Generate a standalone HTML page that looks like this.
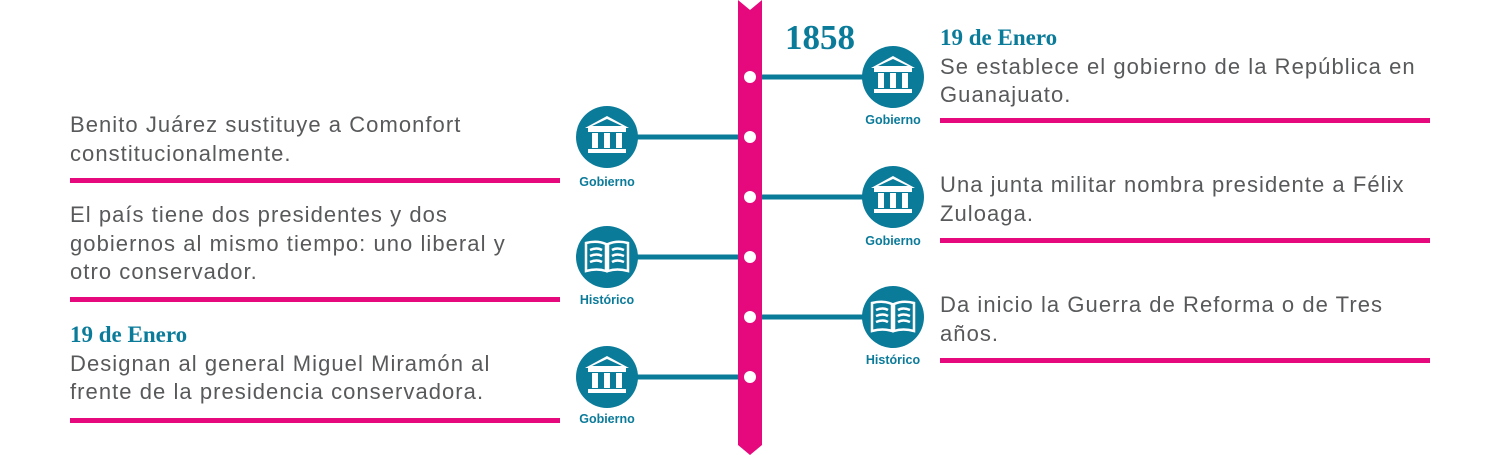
<!DOCTYPE html>
<html><head><meta charset="utf-8"><style>
body{margin:0;width:1500px;height:455px;background:#fff;position:relative;overflow:hidden;font-family:"Liberation Sans",sans-serif}
.t{position:absolute;font-size:22px;line-height:28.5px;color:#58595b;white-space:nowrap;letter-spacing:1.05px}
.h{font-family:"Liberation Serif",serif;font-weight:bold;color:#0b7b9a;font-size:23px;display:block;letter-spacing:0}
.u{position:absolute;height:5px;background:#e6097d;width:490px}
.lab{position:absolute;font-size:12.5px;font-weight:bold;color:#0b7b9a;width:80px;text-align:center}
</style></head><body>
<svg width="1500" height="455" style="position:absolute;left:0;top:0">
<defs>
<g id="gov" fill="#fff">
<polygon points="-22,-9 0,-21 22,-9"/>
<polygon points="-15,-11 0,-18 15,-11" fill="#0b7b9a"/>
<rect x="-19" y="-9" width="38" height="4"/>
<rect x="-15" y="-4" width="6" height="15"/><rect x="-3" y="-4" width="6" height="15"/><rect x="9" y="-4" width="6" height="15"/>
<rect x="-19" y="12" width="38" height="4"/>
</g>
<g id="book" fill="none" stroke="#fff" stroke-width="2.5">
<path d="M-1,-13 Q-10,-17 -21,-14 L-21,14 Q-10,11 -1,14 Z"/>
<path d="M1,-13 Q10,-17 21,-14 L21,14 Q10,11 1,14 Z"/>
<path d="M-17,-7 Q-10,-10 -5,-7 M-17,-1 Q-10,-4 -5,-1 M-17,5 Q-10,2 -5,5 M5,-7 Q10,-10 17,-7 M5,-1 Q10,-4 17,-1 M5,5 Q10,2 17,5"/>
</g>
</defs>
<g stroke="#0b7b9a" stroke-width="5">
<line x1="607" y1="137" x2="750" y2="137"/><line x1="607" y1="257" x2="750" y2="257"/><line x1="607" y1="377" x2="750" y2="377"/>
<line x1="750" y1="77" x2="893" y2="77"/><line x1="750" y1="197" x2="893" y2="197"/><line x1="750" y1="317" x2="893" y2="317"/>
</g>
<polygon points="738,0 750,10 762,0 762,445 750,455 738,445" fill="#e6097d"/>
<g fill="#fff"><circle cx="750" cy="77" r="6"/><circle cx="750" cy="137" r="6"/><circle cx="750" cy="197" r="6"/><circle cx="750" cy="257" r="6"/><circle cx="750" cy="317" r="6"/><circle cx="750" cy="377" r="6"/></g>
<g fill="#0b7b9a"><circle cx="607" cy="137" r="31"/><circle cx="607" cy="257" r="31"/><circle cx="607" cy="377" r="31"/><circle cx="893" cy="77" r="31"/><circle cx="893" cy="197" r="31"/><circle cx="893" cy="317" r="31"/></g>
<use href="#gov" x="607" y="137"/><use href="#book" x="607" y="257"/><use href="#gov" x="607" y="377"/>
<use href="#gov" x="893" y="77"/><use href="#gov" x="893" y="197"/><use href="#book" x="893" y="317"/>
</svg>
<div style="position:absolute;left:785px;top:18px;font-family:'Liberation Serif',serif;font-weight:bold;font-size:35px;color:#0b7b9a">1858</div>
<div class="lab" style="left:567px;top:175px">Gobierno</div>
<div class="lab" style="left:567px;top:293px">Histórico</div>
<div class="lab" style="left:567px;top:412px">Gobierno</div>
<div class="lab" style="left:853px;top:113px">Gobierno</div>
<div class="lab" style="left:853px;top:234px">Gobierno</div>
<div class="lab" style="left:853px;top:353px">Histórico</div>

<div class="t" style="left:70px;top:111px">Benito Juárez sustituye a Comonfort<br>constitucionalmente.</div>
<div class="u" style="left:70px;top:178px"></div>
<div class="t" style="left:70px;top:201px">El país tiene dos presidentes y dos<br>gobiernos al mismo tiempo: uno liberal y<br>otro conservador.</div>
<div class="u" style="left:70px;top:297px"></div>
<div class="t" style="left:70px;top:321px"><span class="h">19 de Enero</span>Designan al general Miguel Miramón al<br>frente de la presidencia conservadora.</div>
<div class="u" style="left:70px;top:418px"></div>

<div class="t" style="left:940px;top:24px"><span class="h">19 de Enero</span>Se establece el gobierno de la República en<br>Guanajuato.</div>
<div class="u" style="left:940px;top:118px"></div>
<div class="t" style="left:940px;top:171px">Una junta militar nombra presidente a Félix<br>Zuloaga.</div>
<div class="u" style="left:940px;top:238px"></div>
<div class="t" style="left:940px;top:291px">Da inicio la Guerra de Reforma o de Tres<br>años.</div>
<div class="u" style="left:940px;top:358px"></div>
</body></html>
